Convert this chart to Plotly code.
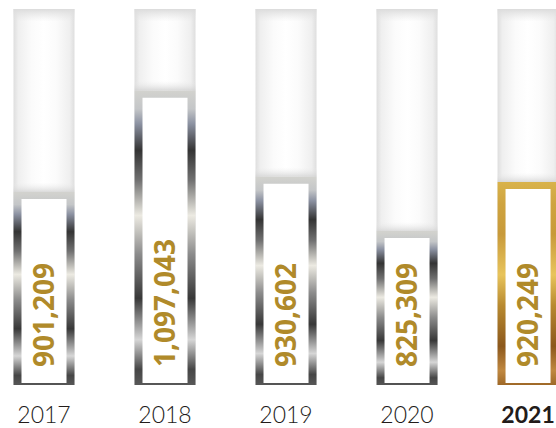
import plotly.graph_objects as go

# ---- data ----
years = ["2017", "2018", "2019", "2020", "2021"]
values = [901209, 1097043, 930602, 825309, 920249]
value_labels = ["901,209", "1,097,043", "930,602", "825,309", "920,249"]
highlight = [False, False, False, False, True]

# ---- scale / style parameters ----
Y_MIN = 527500
Y_MAX = 1272600
TRACK_TOP = 1255000
HALF_W = 0.252
INNER_HALF_W = 0.186
TOP_INSET = 13500
BOTTOM_INSET = 4000

SILVER_TOP_DOWN = [
    (0.00, "#d2d2ce"), (0.06, "#c4c6c8"), (0.11, "#8c92a2"), (0.20, "#343434"),
    (0.30, "#707070"), (0.42, "#eceae2"), (0.55, "#8c8c8c"), (0.70, "#383838"),
    (0.84, "#d6d6d6"), (0.94, "#464646"), (1.00, "#5a5a5a"),
]
GOLD_TOP_DOWN = [
    (0.00, "#d8b24a"), (0.10, "#cfa440"), (0.25, "#c89a3a"), (0.45, "#e8c45c"),
    (0.60, "#b88a30"), (0.80, "#8c581c"), (0.92, "#c08840"), (1.00, "#9a6424"),
]


def to_scale(top_down):
    return sorted([[round(1 - t, 4), c] for t, c in top_down], key=lambda p: p[0])


def rect(x0, x1, y0, y1):
    return [x0, x1, x1, x0, x0], [y0, y0, y1, y1, y0]


fig = go.Figure()
common = dict(mode="lines", fill="toself", hoverinfo="skip", showlegend=False,
              line=dict(width=0, color="rgba(0,0,0,0)"))

for i, v in enumerate(values):
    # background track
    xs, ys = rect(i - HALF_W, i + HALF_W, Y_MIN, TRACK_TOP)
    fig.add_trace(go.Scatter(x=xs, y=ys, fillgradient=dict(
        type="horizontal", start=i - HALF_W, stop=i + HALF_W,
        colorscale=[[0, "#dedede"], [0.08, "#efefef"], [0.3, "#fbfbfb"], [0.5, "#ffffff"],
                    [0.7, "#fbfbfb"], [0.92, "#efefef"], [1, "#dedede"]]), **common))
    # top fade of track
    xs, ys = rect(i - HALF_W, i + HALF_W, TRACK_TOP - 24000, TRACK_TOP)
    fig.add_trace(go.Scatter(x=xs, y=ys, fillgradient=dict(
        type="vertical", start=TRACK_TOP - 24000, stop=TRACK_TOP,
        colorscale=[[0, "rgba(230,230,230,0)"], [1, "rgba(220,220,220,1)"]]), **common))
    # soft shadow above the bar
    xs, ys = rect(i - HALF_W, i + HALF_W, v, v + 20000)
    fig.add_trace(go.Scatter(x=xs, y=ys, fillgradient=dict(
        type="vertical", start=v, stop=v + 20000,
        colorscale=[[0, "rgba(208,208,208,0.9)"], [1, "rgba(235,235,235,0)"]]), **common))
    # metallic bar
    xs, ys = rect(i - HALF_W, i + HALF_W, Y_MIN, v)
    fig.add_trace(go.Scatter(x=xs, y=ys, fillgradient=dict(
        type="vertical", start=Y_MIN, stop=v,
        colorscale=to_scale(GOLD_TOP_DOWN if highlight[i] else SILVER_TOP_DOWN)), **common))
    # white interior
    xs, ys = rect(i - INNER_HALF_W, i + INNER_HALF_W, Y_MIN + BOTTOM_INSET, v - TOP_INSET)
    fig.add_trace(go.Scatter(x=xs, y=ys, fillcolor="#ffffff", **common))

    fig.add_annotation(
        x=i, y=Y_MIN, xref="x", yref="y", text=value_labels[i], showarrow=False,
        textangle=-90, xanchor="center", yanchor="bottom", yshift=16, xshift=-1,
        font=dict(family="Open Sans", size=28, color="#B08A2A", weight=700),
    )

ticktext = [f"<b>{y}</b>" if h else y for y, h in zip(years, highlight)]

fig.update_layout(
    width=556, height=428,
    margin=dict(l=0, r=0, t=0, b=41),
    paper_bgcolor="white", plot_bgcolor="white",
    showlegend=False,
    xaxis=dict(range=[-0.3636, 4.231], tickvals=list(range(len(years))), ticktext=ticktext,
               showgrid=False, zeroline=False, showline=False, ticks="outside",
               ticklen=9, tickcolor="rgba(0,0,0,0)", fixedrange=True,
               tickfont=dict(family="Lato", size=23, color="#231c1a", weight=300)),
    yaxis=dict(range=[Y_MIN, Y_MAX], visible=False, fixedrange=True),
)

fig.write_html("out.html")
